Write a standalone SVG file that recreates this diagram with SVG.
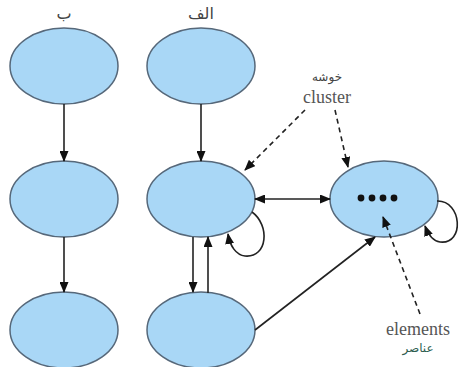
<svg xmlns="http://www.w3.org/2000/svg" width="460" height="367" viewBox="0 0 460 367">
<style>
.n{fill:#a9d7f6;stroke:#56687a;stroke-width:1.5}
.c{stroke:#222;stroke-width:1.6;fill:none}
.d{stroke:#222;stroke-width:1.6;fill:none;stroke-dasharray:5,4}
.h{font-family:"DejaVu Sans","Noto Sans",sans-serif;font-size:16px;fill:#444;text-anchor:middle}
.l{font-family:"Liberation Serif",serif;font-size:18px;fill:#555;text-anchor:middle}
.s{font-family:"DejaVu Sans","Noto Sans",sans-serif;font-size:12px;text-anchor:middle}
</style>
<defs>
<marker id="ah" markerUnits="userSpaceOnUse" markerWidth="11" markerHeight="9" refX="10" refY="4.5" orient="auto">
<path d="M0,0 L11,4.5 L0,9 z" fill="#111"/>
</marker>
<marker id="as" markerUnits="userSpaceOnUse" markerWidth="11" markerHeight="9" refX="1" refY="4.5" orient="auto">
<path d="M11,0 L0,4.5 L11,9 z" fill="#111"/>
</marker>
</defs>
<rect width="460" height="367" fill="#fff"/>
<text class="h" x="64" y="19">ب</text>
<text class="h" x="201" y="19">الف</text>
<g id="b1"><ellipse class="n" cx="64" cy="66" rx="54" ry="38"/></g>
<g id="b2"><ellipse class="n" cx="64" cy="199" rx="54" ry="38"/></g>
<g id="b3"><ellipse class="n" cx="64" cy="330" rx="54" ry="38"/></g>
<g id="a1"><ellipse class="n" cx="201" cy="66" rx="54" ry="38"/></g>
<g id="a2"><ellipse class="n" cx="201" cy="199" rx="54" ry="38"/></g>
<g id="a3"><ellipse class="n" cx="201" cy="330" rx="54" ry="38"/></g>
<g id="c1"><ellipse class="n" cx="384" cy="199" rx="54" ry="38"/>
<g fill="#111"><circle cx="361" cy="198" r="3.4"/><circle cx="372" cy="198" r="3.4"/><circle cx="383" cy="198" r="3.4"/><circle cx="394" cy="198" r="3.4"/></g></g>
<g id="labels">
<text class="s" x="327" y="81" fill="#444">خوشه</text>
<text class="l" x="327" y="103">cluster</text>
<text class="l" x="418" y="335">elements</text>
<text class="s" x="418" y="352" fill="#2e5e50">عناصر</text>
</g>
<g id="connectors">
<line class="c" x1="64" y1="104" x2="64" y2="161" marker-end="url(#ah)"/>
<line class="c" x1="64" y1="237" x2="64" y2="292" marker-end="url(#ah)"/>
<line class="c" x1="201" y1="104" x2="201" y2="161" marker-end="url(#ah)"/>
<line class="c" x1="193" y1="237" x2="193" y2="292" marker-end="url(#ah)"/>
<line class="c" x1="208" y1="293" x2="208" y2="237" marker-end="url(#ah)"/>
<line class="c" x1="255" y1="199" x2="330" y2="199" marker-start="url(#as)" marker-end="url(#ah)"/>
<line class="c" x1="255" y1="330" x2="375" y2="237" marker-end="url(#ah)"/>
<path class="c" d="M252,212 C270,225 268,258 245,256 C236,255 230,246 228,234" marker-end="url(#ah)"/>
<path class="c" d="M437,201 C462,200 465,245 440,242 C433,241 428,234 425,226" marker-end="url(#ah)"/>
<line class="d" x1="305" y1="110" x2="245" y2="170" marker-end="url(#ah)"/>
<line class="d" x1="335" y1="110" x2="348" y2="167" marker-end="url(#ah)"/>
<line class="d" x1="420" y1="314" x2="383" y2="217" marker-end="url(#ah)"/>
</g>
</svg>
